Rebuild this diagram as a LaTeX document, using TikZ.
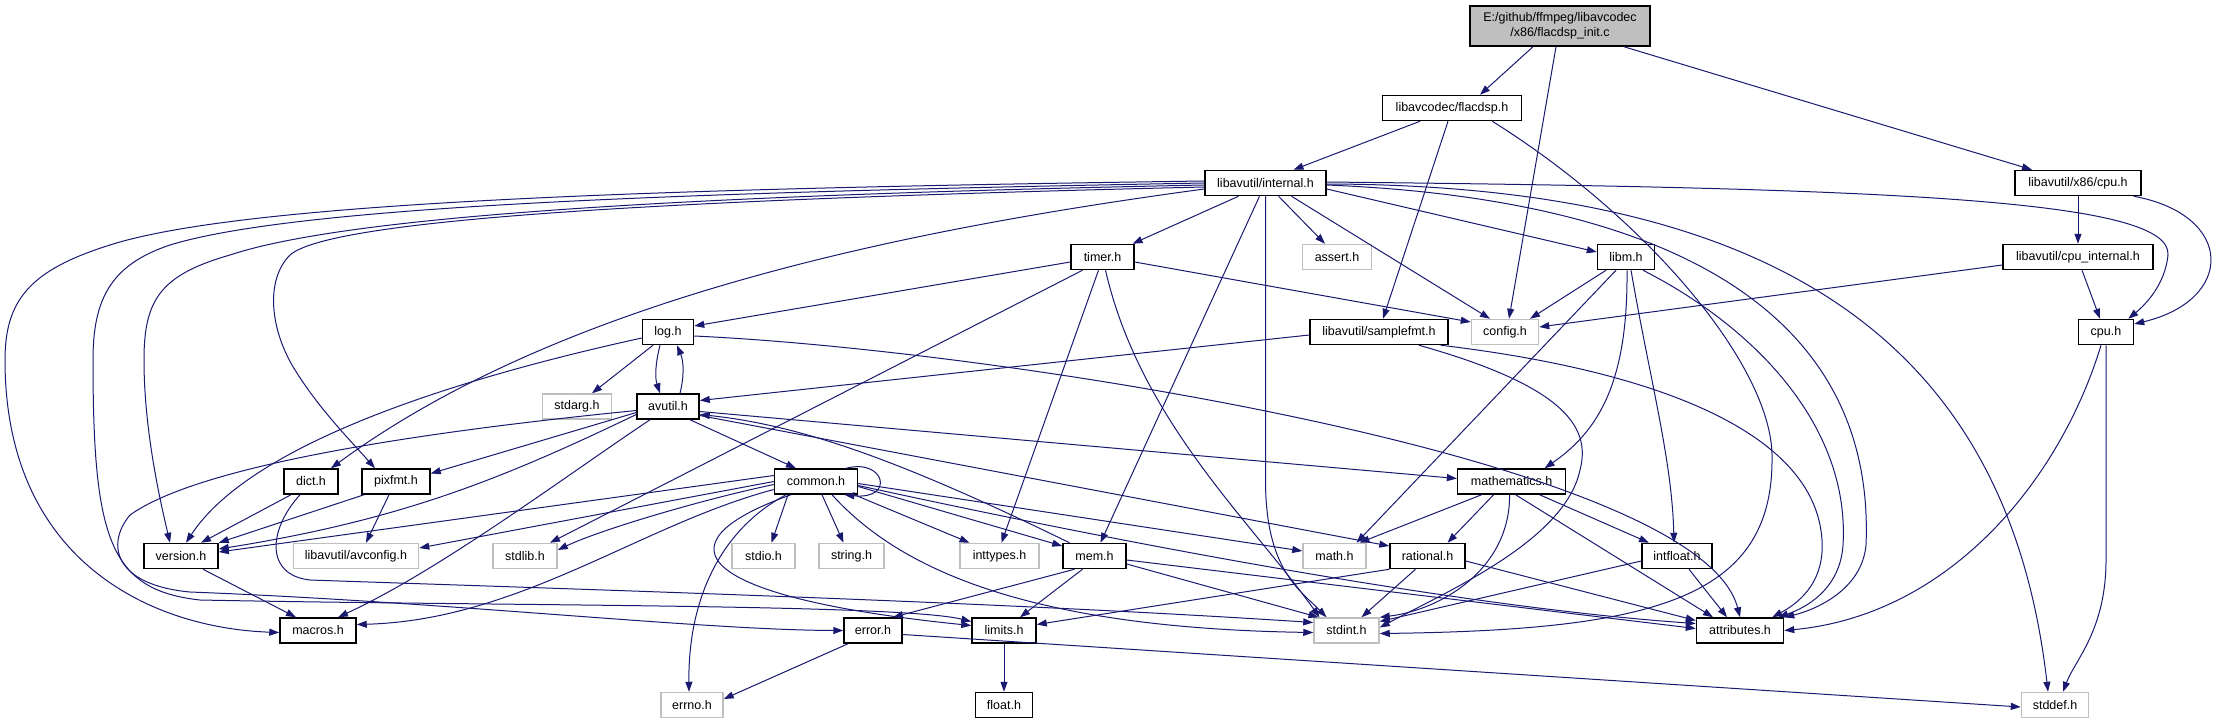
\documentclass[tikz,border=0pt]{standalone}
\usepackage{fontspec}
\setmainfont{Liberation Sans}
\usetikzlibrary{arrows.meta}
\definecolor{edgec}{HTML}{191970}
\definecolor{graybd}{HTML}{BFBFBF}
\begin{document}
\begin{tikzpicture}[x=1pt,y=-1pt,
  box/.style={draw=black,line width=1.5pt,fill=white,minimum height=25pt,inner sep=0pt,font=\fontsize{12.5}{15}\selectfont},
  gbox/.style={box,draw=graybd},
  dep/.style={draw=edgec,line width=1pt,-{Triangle[length=10pt,width=7pt]}}]
\useasboundingbox (0,0) rectangle (2219,724);
% nodes
\node[box,fill=graybd,minimum width=180pt,minimum height=40pt,align=center] (main) at (1560,26) {E:/github/ffmpeg/libavcodec\\/x86/flacdsp\_init.c};
\node[box,minimum width=139pt] (flacdsp) at (1452,108) {libavcodec/flacdsp.h};
\node[box,minimum width=121pt] (internal) at (1265.5,183) {libavutil/internal.h};
\node[box,minimum width=126pt] (x86cpu) at (2078,183) {libavutil/x86/cpu.h};
\node[box,minimum width=63pt] (timer) at (1102.5,257) {timer.h};
\node[gbox,minimum width=69pt] (assert) at (1337,257) {assert.h};
\node[box,minimum width=57pt] (libm) at (1626,257) {libm.h};
\node[box,minimum width=150pt] (cpuint) at (2078,257) {libavutil/cpu\_internal.h};
\node[box,minimum width=51pt] (log) at (668,332) {log.h};
\node[box,minimum width=138pt] (samplefmt) at (1379,332) {libavutil/samplefmt.h};
\node[gbox,minimum width=67pt] (config) at (1505,332) {config.h};
\node[box,minimum width=55pt] (cpu) at (2106,332) {cpu.h};
\node[gbox,minimum width=69pt] (stdarg) at (577,406.5) {stdarg.h};
\node[box,minimum width=62pt] (avutil) at (668,406.5) {avutil.h};
\node[box,minimum width=54pt] (dict) at (311,481.5) {dict.h};
\node[box,minimum width=68pt] (pixfmt) at (396,481.5) {pixfmt.h};
\node[box,minimum width=83pt] (common) at (816,481.5) {common.h};
\node[box,minimum width=108pt] (mathematics) at (1511.6,481.5) {mathematics.h};
\node[box,minimum width=74pt] (version) at (181,556) {version.h};
\node[gbox,minimum width=125pt] (avconfig) at (356,556) {libavutil/avconfig.h};
\node[gbox,minimum width=64pt] (stdlib) at (525,556) {stdlib.h};
\node[gbox,minimum width=63pt] (stdio) at (763.5,556) {stdio.h};
\node[gbox,minimum width=65pt] (string) at (851.5,556) {string.h};
\node[gbox,minimum width=79pt] (inttypes) at (999.5,556) {inttypes.h};
\node[box,minimum width=63pt] (mem) at (1094.5,556) {mem.h};
\node[gbox,minimum width=63pt] (math) at (1334.5,556) {math.h};
\node[box,minimum width=75pt] (rational) at (1427.5,556) {rational.h};
\node[box,minimum width=70pt] (intfloat) at (1677,556) {intfloat.h};
\node[box,minimum width=76pt] (macros) at (318,630.5) {macros.h};
\node[box,minimum width=58pt] (error) at (873,630.5) {error.h};
\node[box,minimum width=64pt] (limits) at (1004,630.5) {limits.h};
\node[gbox,minimum width=65pt] (stdint) at (1346.5,630.5) {stdint.h};
\node[box,minimum width=87pt] (attributes) at (1740,630.5) {attributes.h};
\node[gbox,minimum width=62pt] (errno) at (692,705) {errno.h};
\node[box,minimum width=57pt] (float) at (1004,705) {float.h};
\node[gbox,minimum width=67pt] (stddef) at (2055,705) {stddef.h};
% main
\draw[dep] ([xshift=-27pt]main.south) -- ([xshift=28pt]flacdsp.north);
\draw[dep] ([xshift=-4pt]main.south) -- ([xshift=4pt]config.north);
\draw[dep] ([xshift=64pt]main.south) -- ([xshift=-46pt]x86cpu.north);
% flacdsp
\draw[dep] ([xshift=-32pt]flacdsp.south) -- ([xshift=28pt]internal.north);
\draw[dep] ([xshift=-4pt]flacdsp.south) -- ([xshift=4pt]samplefmt.north);
\draw[dep] ([xshift=-30pt]flacdsp.south east) .. controls (1650,220) and (1775,370) .. (1772,460) .. controls (1772,600) and (1650,630) .. ([yshift=-3pt]stdint.east);
% internal
\draw[dep] ([xshift=-27pt]internal.south) -- ([xshift=30pt]timer.north);
\draw[dep] ([xshift=13pt]internal.south) -- ([xshift=-12pt]assert.north);
\draw[dep] ([yshift=-6pt]internal.east) -- ([yshift=5pt]libm.west);
\draw[dep] ([xshift=26pt]internal.south) -- ([xshift=-15pt]config.north);
\draw[dep] ([xshift=-6pt]internal.south) -- ([xshift=6pt]mem.north);
\draw[dep] (internal.south) -- (1265.5,480) .. controls (1265.5,570) and (1300,590) .. ([xshift=-20pt]stdint.north);
\draw[dep] ([yshift=-2pt]internal.east) .. controls (1700,200) and (1875,330) .. (1866,545) .. controls (1862,590) and (1815,610) .. (attributes.north east);
\draw[dep] ([yshift=-1pt]internal.east) .. controls (1800,185) and (2010,360) .. ([xshift=-7pt]stddef.north);
\draw[dep] ([yshift=1pt]internal.east) .. controls (1900,188) and (2172,200) .. (2168,255) .. controls (2165,285) and (2145,305) .. ([xshift=-6pt]cpu.north east);
\draw[dep] ([yshift=-6pt]internal.west) .. controls (900,230) and (560,300) .. ([xshift=20pt]dict.north);
\draw[dep] ([yshift=-4pt]internal.west) .. controls (650,200) and (330,220) .. (290,255) .. controls (265,280) and (270,330) .. (295,370) .. controls (320,410) and (350,440) .. ([xshift=-21pt]pixfmt.north);
\draw[dep] ([yshift=-2pt]internal.west) .. controls (700,195) and (350,215) .. (230,255) .. controls (160,275) and (144,300) .. (144,360) .. controls (144,430) and (160,500) .. ([xshift=-11pt]version.north);
\draw[dep] (internal.west) .. controls (700,192) and (300,205) .. (170,245) .. controls (110,265) and (93,300) .. (93,360) .. controls (93,540) and (110,590) .. (200,600) .. controls (500,606) and (900,604) .. ([yshift=9pt]limits.west);
\draw[dep] ([yshift=2pt]internal.west) .. controls (700,188) and (250,200) .. (110,245) .. controls (30,270) and (5,300) .. (5,360) .. controls (5,560) and (150,628) .. ([yshift=-2pt]macros.west);
% timer
\draw[dep] ([yshift=-5pt]timer.west) -- ([yshift=6pt]log.east);
\draw[dep] ([yshift=-5pt]timer.east) -- ([yshift=10pt]config.west);
\draw[dep] ([xshift=-20pt]timer.south) -- ([xshift=25pt]stdlib.north);
\draw[dep] ([xshift=-4pt]timer.south) -- ([xshift=2pt]inttypes.north);
\draw[dep] ([xshift=3pt]timer.south) .. controls (1140,420) and (1250,520) .. ([xshift=-27pt]stdint.north);
% libm
\draw[dep] ([xshift=-20pt]libm.south) -- ([xshift=25pt]config.north);
\draw[dep] ([xshift=-10pt]libm.south) -- ([xshift=22pt]math.north);
\draw[dep] ([xshift=1pt]libm.south) .. controls (1628,380) and (1600,430) .. ([xshift=33pt]mathematics.north);
\draw[dep] ([xshift=5pt]libm.south) .. controls (1650,380) and (1672,460) .. ([xshift=-3pt]intfloat.north);
\draw[dep] ([xshift=17pt]libm.south) .. controls (1760,330) and (1850,430) .. (1843,545) .. controls (1840,590) and (1805,608) .. ([xshift=-6pt]attributes.north east);
% cpu_internal, x86/cpu, cpu
\draw[dep] ([yshift=-8pt]cpuint.west) -- ([yshift=5pt]config.east);
\draw[dep] ([xshift=4pt]cpuint.south) -- ([xshift=-6pt]cpu.north);
\draw[dep] (x86cpu.south) -- (cpuint.north);
\draw[dep] ([xshift=-8pt]x86cpu.south east) .. controls (2235,215) and (2235,300) .. ([yshift=8pt]cpu.east);
\draw[dep] ([xshift=-5pt]cpu.south) .. controls (2060,480) and (1950,615) .. (attributes.east);
\draw[dep] (cpu.south) -- (2106,560) .. controls (2106,630) and (2075,660) .. ([xshift=8pt]stddef.north);
% log
\draw[dep] ([xshift=-8pt]log.south) .. controls (655,365) and (655,378) .. ([xshift=-8pt]avutil.north);
\draw[dep] ([xshift=12pt]avutil.north) .. controls (684,378) and (684,362) .. ([xshift=9pt]log.south);
\draw[dep] ([xshift=-15pt]log.south) -- ([xshift=15pt]stdarg.north);
\draw[dep] ([yshift=-6pt]log.west) .. controls (450,380) and (250,445) .. ([xshift=5pt]version.north);
\draw[dep] ([yshift=-4pt]log.east) .. controls (1000,350) and (1700,460) .. (attributes.north);
% samplefmt
\draw[dep] ([yshift=-3pt]samplefmt.west) -- ([yshift=6pt]avutil.east);
\draw[dep] ([xshift=-8pt]samplefmt.south east) .. controls (1650,370) and (1815,430) .. (1822,540) .. controls (1825,585) and (1795,605) .. ([xshift=-12pt]attributes.north east);
\draw[dep] ([xshift=40pt]samplefmt.south) .. controls (1560,385) and (1592,425) .. (1580,470) .. controls (1565,540) and (1450,590) .. ([yshift=3pt]stdint.east);
% avutil
\draw[dep] ([xshift=22pt]avutil.south) -- ([xshift=-20pt]common.north);
\draw[dep] ([yshift=-8pt]avutil.west) .. controls (500,480) and (400,520) .. ([yshift=7pt]version.east);
\draw[dep] ([yshift=-6pt]avutil.west) -- ([yshift=8pt]pixfmt.east);
\draw[dep] ([xshift=-18pt]avutil.south) .. controls (560,480) and (440,570) .. ([xshift=20pt]macros.north);
\draw[dep] ([yshift=-5pt]avutil.east) -- ([yshift=3pt]mathematics.west);
\draw[dep] ([yshift=-9pt]avutil.east) -- ([yshift=10pt]rational.west);
\draw[dep] ([yshift=-4pt]avutil.west) .. controls (420,432) and (200,465) .. (130,515) .. controls (105,545) and (115,585) .. (190,592) .. controls (450,602) and (700,630) .. (error.west);
% common
\draw[dep] ([xshift=-12pt]common.north east) .. controls (885,458) and (895,500) .. ([xshift=-14pt]common.south east);
\draw[dep] ([yshift=6pt]common.west) -- ([yshift=4pt]version.east);
\draw[dep] (common.west) -- ([yshift=8pt]avconfig.east);
\draw[dep] ([yshift=-3pt]common.west) .. controls (700,500) and (600,530) .. ([yshift=6pt]stdlib.east);
\draw[dep] ([xshift=-28pt]common.south) -- ([xshift=8pt]stdio.north);
\draw[dep] ([xshift=6pt]common.south) -- ([xshift=-8pt]string.north);
\draw[dep] ([xshift=-4pt]common.south east) -- ([xshift=-30pt]inttypes.north);
\draw[dep] ([yshift=-5pt]common.east) -- ([yshift=10pt]mem.west);
\draw[dep] ([yshift=-2pt]common.east) -- ([yshift=5pt]math.west);
\draw[dep] ([yshift=-4pt]common.east) .. controls (1200,560) and (1500,610) .. ([yshift=7pt]attributes.west);
\draw[dep] ([yshift=-8pt]common.west) .. controls (640,525) and (520,620) .. ([yshift=6pt]macros.east);
\draw[dep] ([xshift=-30pt]common.south) .. controls (720,530) and (688,600) .. ([xshift=-3pt]errno.north);
\draw[dep] ([xshift=-25pt]common.south) .. controls (650,545) and (700,598) .. ([yshift=5pt]limits.west);
\draw[dep] ([xshift=16pt]common.south) .. controls (900,570) and (1030,628) .. ([yshift=-2pt]stdint.west);
% mem
\draw[dep] ([xshift=-25pt]mem.north) .. controls (900,460) and (800,425) .. ([yshift=-8pt]avutil.east);
\draw[dep] ([xshift=-20pt]mem.south) -- ([xshift=20pt]error.north);
\draw[dep] ([xshift=-12pt]mem.south) -- ([xshift=16pt]limits.north);
\draw[dep] ([yshift=-8pt]mem.east) -- ([xshift=-28pt]stdint.north);
\draw[dep] ([yshift=-4pt]mem.east) -- ([yshift=2pt]attributes.west);
% dict, pixfmt, version
\draw[dep] ([xshift=-20pt]dict.south) -- ([xshift=20pt]version.north);
\draw[dep] ([xshift=-11pt]dict.south) .. controls (268,530) and (265,575) .. (310,580) .. controls (600,590) and (1000,602) .. ([yshift=8pt]stdint.west);
\draw[dep] ([xshift=-32pt]pixfmt.south) -- (version.north east);
\draw[dep] ([xshift=-7pt]pixfmt.south) -- ([xshift=10pt]avconfig.north);
\draw[dep] ([xshift=22pt]version.south) -- ([xshift=-22pt]macros.north);
% mathematics
\draw[dep] ([xshift=-30pt]mathematics.south) -- ([xshift=25pt]math.north);
\draw[dep] ([xshift=-18pt]mathematics.south) -- ([xshift=20pt]rational.north);
\draw[dep] ([xshift=28pt]mathematics.south) -- ([xshift=-28pt]intfloat.north);
\draw[dep] ([xshift=-2pt]mathematics.south) .. controls (1510,570) and (1440,610) .. (stdint.north east);
\draw[dep] ([xshift=4pt]mathematics.south) -- ([xshift=-27pt]attributes.north);
% rational, intfloat
\draw[dep] (rational.south west) -- ([yshift=6pt]limits.east);
\draw[dep] ([xshift=-12pt]rational.south) -- ([xshift=15pt]stdint.north);
\draw[dep] ([yshift=-5pt]rational.east) -- ([yshift=10pt]attributes.west);
\draw[dep] ([yshift=-5pt]intfloat.west) -- ([yshift=9pt]stdint.east);
\draw[dep] ([xshift=12pt]intfloat.south) -- ([xshift=-13pt]attributes.north);
% error, limits
\draw[dep] ([xshift=-25pt]error.south) -- ([yshift=6pt]errno.east);
\draw[dep] ([yshift=-4pt]error.east) -- ([yshift=-2pt]stddef.west);
\draw[dep] (limits.south) -- (float.north);
\end{tikzpicture}
\end{document}
